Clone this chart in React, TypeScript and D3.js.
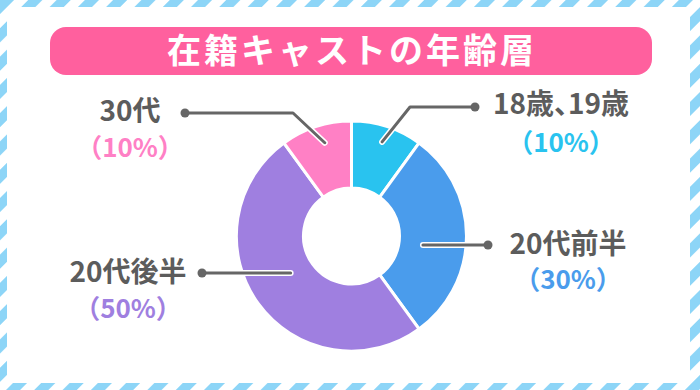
import * as d3 from "d3";

const categories = ["18歳、19歳", "20代前半", "20代後半", "30代"];
const values = [10, 30, 50, 10];
const pctLabels = ["（10%）", "（30%）", "（50%）", "（10%）"];
const colors = ["#29c3ef", "#4a9cec", "#9f7fe0", "#ff80c5"];
const title = "在籍キャストの年齢層";

// leader line layout: inner point (angle deg / radius), elbow, dot, text center
const leaders = [
  { angle: 18, r: 99, elbow: [410, 107], dot: [475, 107], tx: 561, ty: 114, py: 152 },
  { angle: 97, r: 72, elbow: null, dot: [488, 245], tx: 568, ty: 254, py: 289 },
  { angle: 239, r: 71, elbow: null, dot: [202, 273], tx: 128, ty: 282, py: 318 },
  { angle: 344, r: 97, elbow: [293, 113], dot: [185, 113], tx: 130, ty: 121, py: 157 },
];

const W = 700;
const H = 390;
const cx = 351.5;
const cy = 236;
const outerR = 115;
const innerR = 48;
const font = "'Noto Sans CJK JP', 'Noto Sans', sans-serif";

export default function App() {
  const pie = d3
    .pie<number>()
    .sort(null)
    .value((d) => d);
  const arcs = pie(values);
  const arc = d3.arc<d3.PieArcDatum<number>>().innerRadius(innerR).outerRadius(outerR);

  const pathFor = (l: (typeof leaders)[number]) => {
    const a = (l.angle * Math.PI) / 180;
    const p0: [number, number] = [cx + l.r * Math.sin(a), cy - l.r * Math.cos(a)];
    const pts: [number, number][] = [p0];
    if (l.elbow) pts.push(l.elbow as [number, number]);
    else pts[0] = [p0[0], l.dot[1]];
    pts.push(l.dot as [number, number]);
    return d3.line()(pts) as string;
  };

  return (
    <svg
      width={W}
      height={H}
      style={{ position: "absolute", left: 0, top: 0 }}
      fontFamily={font}
    >
      <defs>
        <pattern
          id="stripes"
          width={20}
          height={20}
          patternUnits="userSpaceOnUse"
          patternTransform="rotate(45)"
        >
          <rect width={20} height={20} fill="#ffffff" />
          <rect width={10} height={20} fill="#8dd5f7" />
        </pattern>
      </defs>
      <rect width={W} height={H} fill="url(#stripes)" />
      <rect x={7} y={7} width={683} height={376} fill="#ffffff" />

      <rect x={50} y={27} width={602} height={48} rx={16} fill="#ff609e" />
      <text
        x={352}
        y={63}
        textAnchor="middle"
        fill="#ffffff"
        fontSize={34}
        fontWeight="bold"
        letterSpacing={3}
      >
        {title}
      </text>

      <g transform={`translate(${cx},${cy})`}>
        {arcs.map((a, i) => (
          <path
            key={categories[i]}
            d={arc(a) as string}
            fill={colors[i]}
            stroke="#ffffff"
            strokeWidth={3}
          />
        ))}
      </g>

      {leaders.map((l, i) => (
        <g key={categories[i]}>
          <path d={pathFor(l)} fill="none" stroke="#ffffff" strokeWidth={6} strokeLinecap="round" strokeLinejoin="round" />
          <path d={pathFor(l)} fill="none" stroke="#666666" strokeWidth={3} strokeLinecap="round" strokeLinejoin="round" />
          <circle cx={l.dot[0]} cy={l.dot[1]} r={4.5} fill="#666666" />
          <text
            x={l.tx}
            y={l.ty}
            textAnchor="middle"
            fontSize={28}
            fontWeight="bold"
            fill="#5c5c5c"
            style={{ fontFeatureSettings: "'palt'" }}
          >
            {categories[i]}
          </text>
          <text
            x={l.tx}
            y={l.py}
            textAnchor="middle"
            fontSize={26}
            fontWeight="bold"
            fill={colors[i]}
          >
            {pctLabels[i]}
          </text>
        </g>
      ))}
    </svg>
  );
}
